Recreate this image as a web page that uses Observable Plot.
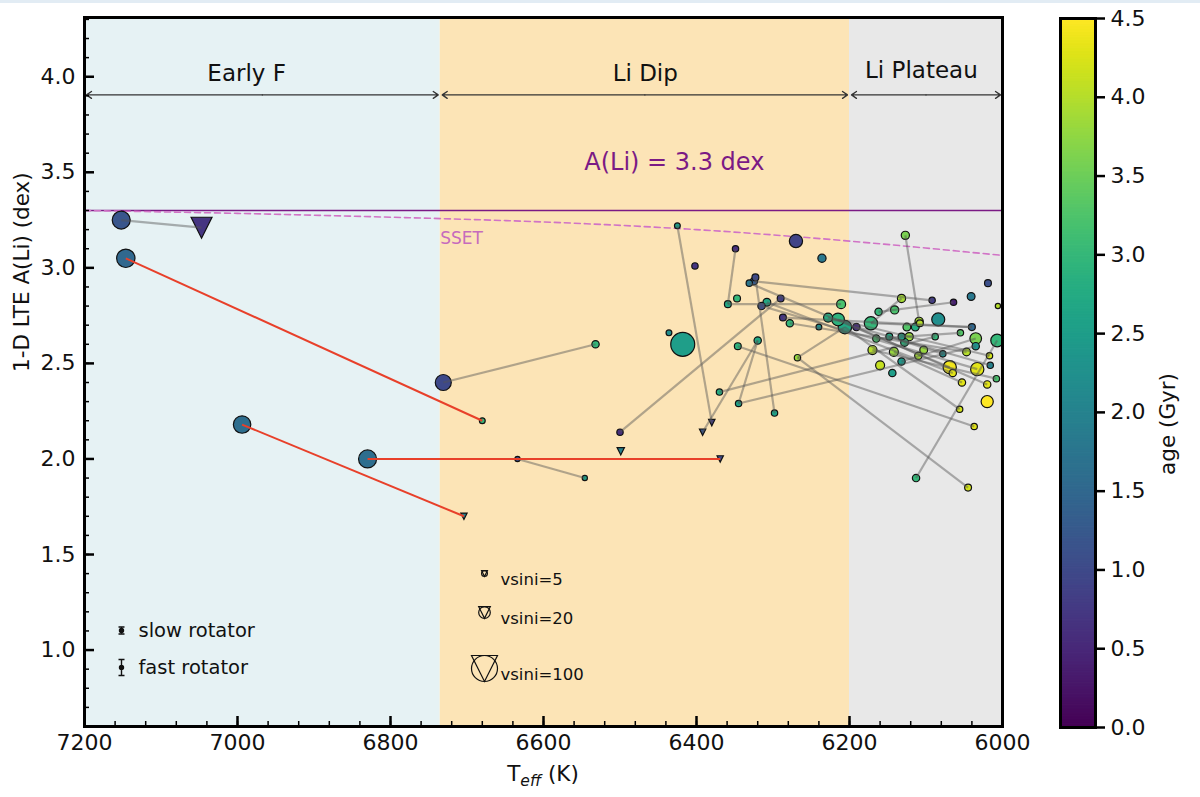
<!DOCTYPE html>
<html><head><meta charset="utf-8">
<script src="https://cdn.jsdelivr.net/npm/d3@7"></script>
<script src="https://cdn.jsdelivr.net/npm/@observablehq/plot@0.6"></script>
<style>
body{margin:0;background:#fff;font-family:"DejaVu Sans",sans-serif;}
#wrap{position:relative;width:1200px;height:797px;overflow:hidden;background:#fff;}
#strip{position:absolute;left:0;top:0;width:1200px;height:3px;background:#e2ecf4;}
#main{position:absolute;left:0;top:0;}
#cbar{position:absolute;left:1040px;top:0;}
</style></head><body>
<div id="wrap"><div id="strip"></div><div id="main"></div><div id="cbar"></div></div>
<script>
// ---------------- data ----------------
const teff = [
  7152,7047,7146,6680,6731,6532,6994,6704,6830,6369,6634,6546,
  6425,6380,6270,6349,6359,6402,6236,6323,6325,6331,6347,6308,6315,6290,6211,6287,6278,6240,6228,6215,6206,6191,6436,6418,6346,6320,6268,6370,6345,6298,6500,6392,6499,
  6127,6109,6132,6092,6064,6041,6019,6006,6162,6141,6172,6108,6125,6114,6084,6040,6035,6007,6165,6148,6132,6122,6128,6088,6055,6035,6170,6142,6103,6110,6047,6017,6078,6132,6160,6144,6069,6065,6033,6016,6008,6053,6020,6020,6056,6037,6113,6045
];
const aLi = [
  3.25,3.21,3.05,2.20,2.40,2.60,2.18,1.70,2.00,2.00,2.00,1.90,
  3.22,2.19,3.14,3.10,2.81,3.01,3.05,2.95,2.93,2.92,2.84,2.82,2.80,2.84,2.81,2.74,2.71,2.69,2.74,2.73,2.69,2.69,2.66,2.60,2.59,2.62,2.53,2.35,2.29,2.24,2.14,2.14,2.04,
  3.17,2.72,2.84,2.83,2.82,2.85,2.92,2.80,2.77,2.78,2.71,2.71,2.69,2.69,2.73,2.69,2.63,2.62,2.63,2.64,2.64,2.64,2.61,2.64,2.66,2.59,2.57,2.56,2.57,2.54,2.56,2.54,2.55,2.51,2.49,2.45,2.48,2.45,2.47,2.49,2.42,2.40,2.39,2.30,2.26,2.17,1.90,1.85
];
const ageGyr = [
  1.2,0.7,1.5,3.0,1.0,3.0,1.6,2.0,1.6,1.0,1.0,2.6,
  2.5,0.8,0.9,0.6,2.7,0.7,1.8,1.0,1.3,1.8,3.0,2.7,1.1,0.8,3.2,0.7,3.0,2.2,2.8,2.9,2.7,0.6,2.2,2.5,2.9,2.7,3.8,2.8,2.6,2.6,0.6,1.2,2.0,
  3.6,3.9,3.9,0.8,0.4,1.8,1.1,4.0,3.0,3.2,3.0,4.0,3.3,2.8,2.2,1.5,3.6,3.0,3.2,2.7,2.6,3.8,2.9,3.0,3.3,2.3,4.0,3.8,3.8,3.9,4.0,4.2,2.2,2.4,4.1,2.5,4.4,4.3,4.3,2.0,3.2,4.3,4.3,4.5,4.2,4.3,3.0,4.2
];
const vsini = [
  48,65,50,5,38,8,45,6,48,6,4,4,
  5,6,26,6,7,6,10,7,8,6,7,9,8,7,12,7,8,5,12,24,27,8,5,85,7,8,6,6,6,6,6,6,8,
  10,10,10,6,6,9,7,4,8,10,26,7,9,9,25,7,20,24,8,7,7,10,9,6,6,8,12,12,9,8,9,6,6,8,12,8,26,8,26,6,6,8,8,22,6,6,8,7
];
const upperLimitIdx = [1,7,9,13,43,44];
const greyPairs = [
  [0,1],[4,5],[10,11],[12,13],[15,16],[16,26],[19,41],[20,48],[42,25],[43,37],[40,37],
  [39,68],[40,70],[36,90],[38,92],[38,32],[91,62],[45,46],[21,81],[24,83],[23,82],[32,89],
  [31,87],[30,76],[33,84],[28,75],[47,55],[53,49],[78,61],[71,85],[63,69],[72,86],[55,60],[64,77],[27,60]
];
const redPairs = [[2,3],[6,7],[8,9]];

const regionStart = [7200, 6735, 6200];
const regionEnd   = [6735, 6200, 6000];
const regionNames = ["Early F", "Li Dip", "Li Plateau"];
const regionLabelTeff = [6988, 6467, 6106];
const regionLabelALi = [4.015, 4.015, 4.03];
const arrowALi = 3.905;

const liLine = 3.3;
const ssetTeff = [7200, 7000, 6800, 6600, 6400, 6200, 6000];
const ssetALi  = [3.300, 3.285, 3.265, 3.240, 3.200, 3.140, 3.065];

const xTicks = [7200, 7000, 6800, 6600, 6400, 6200, 6000];
const yTicks = [1.0, 1.5, 2.0, 2.5, 3.0, 3.5, 4.0];
const cbTicks = [0, 0.5, 1.0, 1.5, 2.0, 2.5, 3.0, 3.5, 4.0, 4.5];
const vsiniLegend = [5, 20, 100];

// ---------------- build ----------------
const limSet = new Set(upperLimitIdx);
const pts = teff.map((t, i) => ({i, teff: t, ali: aLi[i], age: ageGyr[i], vsini: vsini[i], lim: limSet.has(i)}))
  .sort((a, b) => b.vsini - a.vsini);
const circles = pts.filter(d => !d.lim);
const tris = pts.filter(d => d.lim);
const toSeg = p => ({x1: teff[p[0]], y1: aLi[p[0]], x2: teff[p[1]], y2: aLi[p[1]]});
const greySegs = greyPairs.map(toSeg);
const redSegs = redPairs.map(toSeg);
const regions = regionStart.map((s, i) => ({x1: s, x2: regionEnd[i], name: regionNames[i], lx: regionLabelTeff[i], ly: regionLabelALi[i]}));
const regionFill = ["#e6f2f4", "#fce4b6", "#e8e8e8"];
const arrows = regions.flatMap(r => {
  const m = (r.x1 + r.x2) / 2;
  return [{x1: m, x2: r.x1}, {x1: m, x2: r.x2}];
});
const sset = ssetTeff.map((t, i) => ({teff: t, ali: ssetALi[i]}));
const minorX = d3.range(7200, 5999, -40);
const minorY = d3.range(7, 44).map(v => v / 10);

const triDown = {draw(ctx, size) {
  const r = Math.sqrt(size / Math.PI);
  ctx.moveTo(-r, -r); ctx.lineTo(r, -r); ctx.lineTo(0, r); ctx.closePath();
}};
const errSym = h => ({draw(ctx) {
  ctx.moveTo(0, -h); ctx.lineTo(0, h);
  ctx.moveTo(-3, -h); ctx.lineTo(3, -h);
  ctx.moveTo(-3, h); ctx.lineTo(3, h);
  ctx.moveTo(2, 0); ctx.arc(0, 0, 2, 0, 2 * Math.PI);
}});

const colorScale = {type: "linear", scheme: "viridis", domain: [0, 4.5]};
const font = "DejaVu Sans";

const main = Plot.plot({
  width: 1030, height: 797,
  marginLeft: 84, marginRight: 28, marginTop: 17, marginBottom: 71,
  style: {fontFamily: font, background: "transparent", overflow: "visible"},
  x: {domain: [7200, 6000]},
  y: {domain: [0.6, 4.31]},
  color: colorScale,
  r: {type: "sqrt", domain: [0, 100], range: [0, 13]},
  marks: [
    Plot.rect(regions, {x1: "x1", x2: "x2", y1: 0.6, y2: 4.31, fill: (d, i) => regionFill[i]}),
    Plot.ruleY([liLine], {stroke: "#7b1a85", strokeWidth: 1.6}),
    Plot.line(sset, {x: "teff", y: "ali", stroke: "#d173c6", strokeWidth: 1.6, strokeDasharray: "6,4", curve: "natural"}),
    Plot.text(["A(Li) = 3.3 dex"], {x: 6429, y: 3.55, fill: "#7b1a85", fontSize: 24, textAnchor: "middle"}),
    Plot.text(["SSET"], {x: 6735, y: 3.155, fill: "#c66bbd", fontSize: 17, textAnchor: "start"}),
    Plot.text(regions, {x: "lx", y: "ly", text: "name", fontSize: 23, fill: "#111"}),
    Plot.arrow(arrows, {x1: "x1", x2: "x2", y1: arrowALi, y2: arrowALi, stroke: "#333", strokeWidth: 1.3, headLength: 7, headAngle: 70, insetEnd: 2}),
    Plot.dot(circles, {x: "teff", y: "ali", r: "vsini", fill: "age", stroke: "#111", strokeWidth: 1.2, symbol: "circle", clip: true}),
    Plot.dot(tris, {x: "teff", y: "ali", r: "vsini", fill: "age", stroke: "#111", strokeWidth: 1.2, symbol: triDown, clip: true}),
    Plot.link(greySegs, {x1: "x1", y1: "y1", x2: "x2", y2: "y2", stroke: "#555", strokeOpacity: 0.45, strokeWidth: 2.2, clip: true}),
    Plot.link(redSegs, {x1: "x1", y1: "y1", x2: "x2", y2: "y2", stroke: "#e8402a", strokeWidth: 2}),
    // rotator legend
    Plot.dot([0], {frameAnchor: "top-left", dx: 37, dy: 613, symbol: errSym(3.5), r: 4, fill: "#111", stroke: "#111", strokeWidth: 1.4}),
    Plot.text(["slow rotator"], {frameAnchor: "top-left", dx: 54, dy: 613, fontSize: 19.5, textAnchor: "start", lineAnchor: "middle", fill: "#111"}),
    Plot.dot([0], {frameAnchor: "top-left", dx: 37, dy: 650, symbol: errSym(8), r: 4, fill: "#111", stroke: "#111", strokeWidth: 1.4}),
    Plot.text(["fast rotator"], {frameAnchor: "top-left", dx: 54, dy: 650, fontSize: 19.5, textAnchor: "start", lineAnchor: "middle", fill: "#111"}),
    // vsini legend
    ...vsiniLegend.flatMap((v, k) => {
      const dy = [556, 595, 651][k];
      return [
        Plot.dot([v], {r: d => d, frameAnchor: "top-left", dx: 400, dy, symbol: "circle", fill: "none", stroke: "#111", strokeWidth: 1.2}),
        Plot.dot([v], {r: d => d, frameAnchor: "top-left", dx: 400, dy, symbol: triDown, fill: "none", stroke: "#111", strokeWidth: 1.2}),
        Plot.text([`vsini=${v}`], {frameAnchor: "top-left", dx: 416, dy: dy + 6, fontSize: 16.5, textAnchor: "start", lineAnchor: "middle", fill: "#111"})
      ];
    }),
    Plot.frame({stroke: "#000", strokeWidth: 3}),
    Plot.axisX(xTicks, {tickSize: -10, tickPadding: 18, strokeWidth: 2.5, fontSize: 22, fill: "#111", tickFormat: d => String(d), label: null}),
    Plot.axisX(minorX, {tickSize: -5, strokeWidth: 1.5, tickFormat: () => "", label: null}),
    Plot.axisY(yTicks, {tickSize: -10, tickPadding: 19, strokeWidth: 2.5, fontSize: 22, fill: "#111", tickFormat: d => d.toFixed(1), label: null}),
    Plot.axisY(minorY, {tickSize: -5, strokeWidth: 1.5, tickFormat: () => "", label: null}),
    Plot.text(["1-D LTE A(Li) (dex)"], {frameAnchor: "left", dx: -62, rotate: -90, fontSize: 21.5, fill: "#111"})
  ]
});
document.getElementById("main").appendChild(main);

// x-axis title with subscript
const svg = d3.select(main.tagName.toLowerCase() === "svg" ? main : main.querySelector("svg"));
const t = svg.append("text").attr("x", 543).attr("y", 781).attr("text-anchor", "middle")
  .attr("font-family", font).attr("font-size", 21.5).attr("fill", "#111");
t.append("tspan").text("T");
t.append("tspan").attr("font-style", "italic").attr("font-size", 15.5).attr("dy", 5).text("eff");
t.append("tspan").attr("dy", -5).text(" (K)");

// ---------------- colorbar ----------------
const step = 0.01;
const cbVals = d3.range(0, 4.5, step);
const cbar = Plot.plot({
  width: 160, height: 797,
  marginLeft: 20, marginRight: 105, marginTop: 18, marginBottom: 70,
  style: {fontFamily: font, background: "transparent"},
  x: {domain: [0, 1], axis: null},
  y: {domain: [0, 4.5], axis: null},
  color: colorScale,
  marks: [
    Plot.rect(cbVals, {x1: () => 0, x2: () => 1, y1: d => d, y2: d => Math.min(4.5, d + step * 1.5), fill: d => d + step / 2}),
    Plot.frame({stroke: "#000", strokeWidth: 3}),
    Plot.axisY(cbTicks, {anchor: "right", tickSize: 9, tickPadding: 6, strokeWidth: 2.5, fontSize: 22, fill: "#111", tickFormat: d => d.toFixed(1), label: null}),
    Plot.text(["age (Gyr)"], {frameAnchor: "right", dx: 73, rotate: -90, fontSize: 21.5, fill: "#111"})
  ]
});
document.getElementById("cbar").appendChild(cbar);
</script>
</body></html>
